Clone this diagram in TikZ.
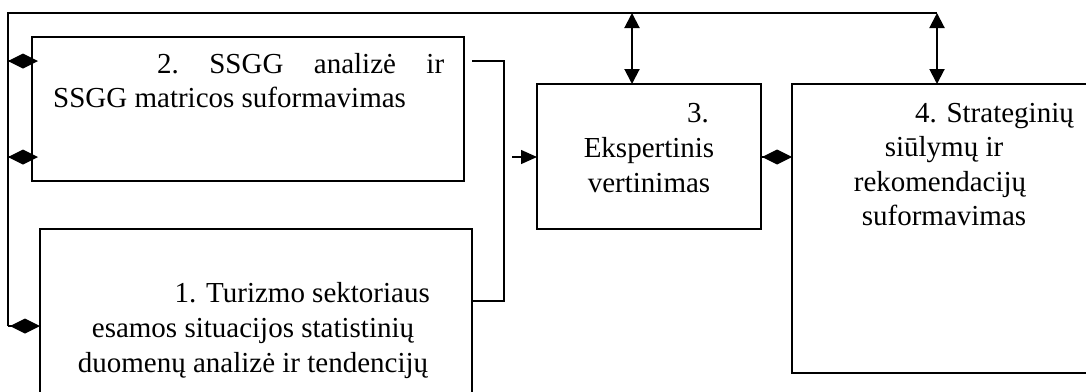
\documentclass[tikz,border=0pt]{standalone}
\usepackage{fontspec}
\setmainfont{Liberation Serif}
\usetikzlibrary{arrows.meta}
\begin{document}
\begin{tikzpicture}[x=1pt,y=-1pt,
  box/.style={draw,line width=1.4pt,inner sep=0pt,outer sep=0pt},
  conn/.style={line width=1.4pt},
  dmd/.style={conn,-{Diamond[length=30pt,width=15pt]}},
  tri/.style={conn,-{Triangle[length=16pt,width=14pt]}},
  both/.style={line width=2pt,{Triangle[length=15pt,width=15pt]}-{Triangle[length=15pt,width=15pt]}},
  txt/.style={inner sep=0pt,font=\fontsize{29}{34}\selectfont}]
\useasboundingbox (0,0) rectangle (1086,391);

% process boxes
\node[box,minimum width=432pt,minimum height=144pt] (b2) at (248,109) {};
\node[box,minimum width=432pt,minimum height=171pt] (b1) at (256,314.5) {};
\node[box,minimum width=224pt,minimum height=145pt] (b3) at (649,156.5) {};
\node[box,minimum width=296pt,minimum height=289pt] (b4) at (940,228.5) {};

% box texts
\node[txt,anchor=base west] (t2a) at (157,73) {\hbox to 287pt{2.\hfill SSGG\hfill analizė\hfill ir}};
\node[txt,anchor=base west] (t2b) at (53,107) {SSGG matricos suformavimas};

\node[txt,anchor=base east] (t1a) at (430,302) {1. Turizmo sektoriaus};
\node[txt,anchor=base] (t1b) at (253,337) {esamos situacijos statistinių};
\node[txt,anchor=base] (t1c) at (253,372) {duomenų analizė ir tendencijų};

\node[txt,anchor=base east] (t3a) at (709,122) {3.};
\node[txt,anchor=base] (t3b) at (649,157) {Ekspertinis};
\node[txt,anchor=base] (t3c) at (649,192) {vertinimas};

\node[txt,anchor=base east] (t4a) at (1074,122) {4. Strateginių};
\node[txt,anchor=base] (t4b) at (944,156.5) {siūlymų ir};
\node[txt,anchor=base] (t4c) at (940,191) {rekomendacijų};
\node[txt,anchor=base] (t4d) at (944,225.5) {suformavimas};

% feedback loop along the left and top
\coordinate (lb) at (8,326);
\coordinate (lu) at (8,61);
\coordinate (lm) at (8,157);
\coordinate (lt) at (8,13);
\coordinate (a3) at (632,13);
\coordinate (rt) at (937,13);
\draw[conn] (lb) -- (lt) -- (rt);
\draw[dmd,shorten >=-6pt] (lu) -- (lu -| b2.west);
\draw[dmd,shorten >=-6pt] (lm) -- (lm -| b2.west);
\draw[dmd] (lb) -- (lb -| b1.west);
\draw[both] (a3) -- (a3 |- b3.north);
\draw[both] (rt) -- (rt |- b4.north);

% boxes 1 and 2 feed the expert evaluation
\coordinate (s2) at (472,61);
\coordinate (jn) at (504,61);
\coordinate (j1) at (504,301);
\coordinate (ar) at (512,157);
\draw[conn] (s2) -- (jn) -- (j1) -- (j1 -| b1.east);
\draw[tri] (ar) -- (ar -| b3.west);

% evaluation <-> proposals
\draw[dmd] (b3.east |- 0,157) -- (b4.west |- 0,157);
\end{tikzpicture}
\end{document}
